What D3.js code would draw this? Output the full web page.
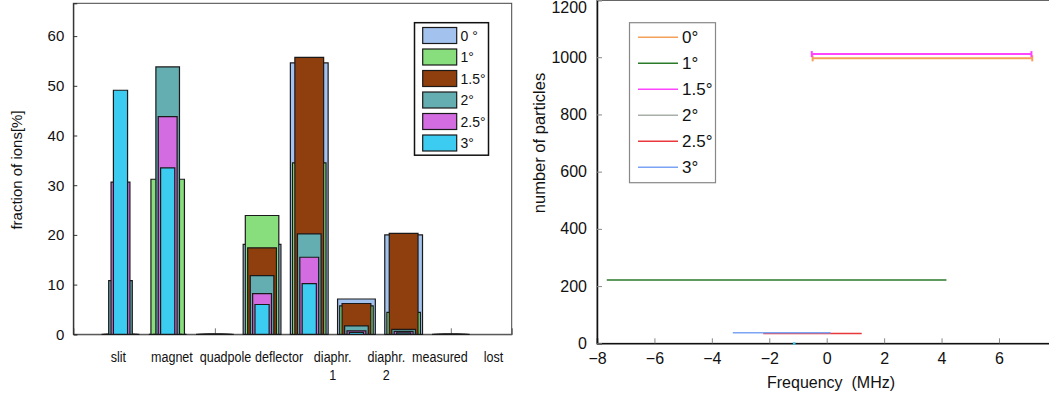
<!DOCTYPE html>
<html>
<head>
<meta charset="utf-8">
<script src="https://cdn.jsdelivr.net/npm/d3@7"></script>
<style>
  html, body { margin: 0; padding: 0; background: #fff; }
  svg { display: block; }
  text { font-family: "Liberation Sans", Arial, sans-serif; fill: #111; }
</style>
</head>
<body>
<svg id="chart" width="1049" height="399"></svg>
<script>
// ---------- Left chart data ----------
const categories = ["slit", "magnet", "quadpole", "deflector", "diaphr.\n1", "diaphr.\n2", "measured", "lost"];
const angleLabels = ["0 °", "1°", "1.5°", "2°", "2.5°", "3°"];
const frac0   = [0,    0,    0, 18.1, 54.6, 7.1, 20.0, 0];
const frac1   = [0,    31.2, 0, 23.9, 34.5, 5.7, 4.4,  0];
const frac15  = [0,    0,    0, 17.4, 55.7, 6.2, 20.3, 0];
const frac2   = [10.8, 53.8, 0, 11.8, 20.2, 1.7, 1.0,  0];
const frac25  = [30.6, 43.8, 0, 8.2,  15.5, 0.7, 0.6,  0];
const frac3   = [49.1, 33.5, 0, 6.0,  10.2, 0.4, 0.3,  0];
const fracTicks = [0, 10, 20, 30, 40, 50, 60];

// ---------- Right chart data ----------
const seriesLabels = ["0°", "1°", "1.5°", "2°", "2.5°", "3°"];
const particles = [996, 221, 1011, null, 34, 37];
const freqLow   = [-0.49, -7.66, -0.52, null, -2.21, -3.27];
const freqHigh  = [7.16, 4.17, 7.13, null, 1.22, 0.14];
const dotFreq = [-1.14];
const dotCount = [0];
const freqTicks = [-8, -6, -4, -2, 0, 2, 4, 6];
const countTicks = [0, 200, 400, 600, 800, 1000, 1200];

// ---------- styles ----------
const barColors = ["#a3c3ee", "#88dd7c", "#8f3f0d", "#64aeb1", "#d26ce0", "#3ccbf1"];
const barWidths = [0.8, 0.71, 0.61, 0.5, 0.4, 0.3];
const lineColors = ["#f5a05a", "#2a7a2a", "#ff44ff", "#a8b0aa", "#e8383c", "#7ba4f4"];
const lineWidths = [2, 1.5, 2, 1.5, 1.5, 1.5];
const capped = [true, false, true, false, false, false];

const svg = d3.select("#chart");

// ================= LEFT CHART =================
const L = { left: 73.3, right: 511.7, top: 3.3, bottom: 334.3 };
const xL = d3.scaleLinear().domain([0, 9.29]).range([L.left, L.right]);
const yL = d3.scaleLinear().domain([0, 66.6]).range([L.bottom, L.top]);
const labelX = d3.scalePoint().domain(categories).range([118.3, 493.5]);

const gL = svg.append("g");

// frame
gL.append("rect").attr("x", L.left).attr("y", L.top)
  .attr("width", L.right - L.left).attr("height", L.bottom - L.top)
  .attr("fill", "none").attr("stroke", "#444").attr("stroke-width", 1);

// bottom axis ticks (inward) at bar positions
gL.append("g").attr("transform", `translate(0,${L.bottom})`)
  .call(d3.axisBottom(xL).tickValues(d3.range(1, categories.length + 1)).tickSize(-6).tickFormat(""))
  .call(g => g.select(".domain").attr("stroke", "#555"))
  .call(g => g.selectAll(".tick line").attr("stroke", "#777"));

// left axis
gL.append("g").attr("transform", `translate(${L.left},0)`)
  .call(d3.axisLeft(yL).tickValues(fracTicks).tickSize(-4).tickPadding(9))
  .call(g => g.select(".domain").attr("stroke", "#222"))
  .call(g => g.selectAll(".tick line").attr("stroke", "#333"))
  .call(g => g.selectAll(".tick text").style("font-size", "15px").attr("fill", "#111"));

// bars
const fracSeries = [frac0, frac1, frac15, frac2, frac25, frac3];
fracSeries.forEach((vals, s) => {
  const w = barWidths[s];
  gL.append("g").selectAll("path").data(vals).join("path")
    .attr("d", (v, i) => {
      const x0 = xL(i + 1 - w / 2), x1 = xL(i + 1 + w / 2);
      const y0 = yL(0), y1 = yL(v);
      return `M${x0},${y0}V${y1}H${x1}V${y0}Z`;
    })
    .attr("fill", barColors[s])
    .attr("stroke", "#1a1a1a")
    .attr("stroke-width", 1.2)
    .attr("stroke-linejoin", "miter");
});

// category labels (condensed look via horizontal scaling)
const catG = gL.append("g").selectAll("g").data(categories).join("g")
  .attr("transform", d => `translate(${labelX(d)},361.5) scale(0.81,1)`);
catG.each(function(d) {
  const parts = d.split("\n");
  d3.select(this).selectAll("text").data(parts).join("text")
    .attr("x", 0)
    .attr("y", (p, i) => i * 18.5)
    .attr("text-anchor", "middle")
    .style("font-size", "15.5px")
    .text(p => p);
});

// y label
gL.append("text")
  .attr("transform", `translate(22,170) rotate(-90)`)
  .attr("text-anchor", "middle")
  .style("font-size", "15px")
  .text("fraction of ions[%]");

// legend
const lg = gL.append("g");
lg.append("rect").attr("x", 414.5).attr("y", 22.7).attr("width", 74).attr("height", 132.5)
  .attr("fill", "#fff").attr("stroke", "#111").attr("stroke-width", 1.5);
angleLabels.forEach((lab, i) => {
  const yy = 27.5 + i * 21.5;
  lg.append("rect").attr("x", 422.7).attr("y", yy).attr("width", 34).attr("height", 16)
    .attr("fill", barColors[i]).attr("stroke", "#1a1a1a").attr("stroke-width", 1.2);
  lg.append("text").attr("x", 460.5).attr("y", yy + 8).attr("dy", "0.36em")
    .style("font-size", "14px").text(lab);
});

// ================= RIGHT CHART =================
const R = { left: 597, right: 1056.4, top: 0.5, bottom: 343.3 };
const xR = d3.scaleLinear().domain([-8, 8]).range([R.left, R.right]);
const yR = d3.scaleLinear().domain([0, 1200]).range([R.bottom, 0]);

const gR = svg.append("g");

gR.append("rect").attr("x", R.left).attr("y", R.top)
  .attr("width", R.right - R.left).attr("height", R.bottom - R.top)
  .attr("fill", "none").attr("stroke", "#666").attr("stroke-width", 1);

gR.append("g").attr("transform", `translate(0,${R.bottom})`)
  .call(d3.axisBottom(xR).tickValues(freqTicks).tickSize(-5).tickPadding(9))
  .call(g => g.select(".domain").attr("stroke", "#111").attr("stroke-width", 1.5))
  .call(g => g.selectAll(".tick line").attr("stroke", "#888"))
  .call(g => g.selectAll(".tick text").style("font-size", "16px").attr("fill", "#111"));

gR.append("g").attr("transform", `translate(${R.left},0)`)
  .call(d3.axisLeft(yR).tickValues(countTicks).tickFormat(d3.format("d")).tickSize(-5).tickPadding(10))
  .call(g => g.select(".domain").attr("stroke", "#111").attr("stroke-width", 1.5))
  .call(g => g.selectAll(".tick line").attr("stroke", "#888"))
  .call(g => g.selectAll(".tick text").style("font-size", "16px").attr("fill", "#111")
     .attr("y", d => Math.max(0, 7 - yR(d))));

// series lines
const lineGen = d3.line().x(d => xR(d[0])).y(d => yR(d[1]));
particles.forEach((p, i) => {
  if (p === null) return;
  gR.append("path")
    .datum([[freqLow[i], p], [freqHigh[i], p]])
    .attr("d", lineGen)
    .attr("fill", "none")
    .attr("stroke", lineColors[i])
    .attr("stroke-width", lineWidths[i]);
  if (capped[i]) {
    [freqLow[i], freqHigh[i]].forEach(f => {
      gR.append("line")
        .attr("x1", xR(f)).attr("x2", xR(f))
        .attr("y1", yR(p) - 3).attr("y2", yR(p) + 3)
        .attr("stroke", lineColors[i]).attr("stroke-width", 2);
    });
  }
});

// small dot
gR.selectAll("rect.dot").data(dotFreq).join("rect").attr("class", "dot")
  .attr("x", (d) => xR(d) - 1).attr("y", (d, i) => yR(dotCount[i]) - 1)
  .attr("width", 2.5).attr("height", 2.5).attr("fill", "#3cc4ee");

// labels
gR.append("text").attr("x", 831).attr("y", 388).attr("text-anchor", "middle")
  .style("font-size", "16px").text("Frequency\u00a0\u00a0(MHz)");
gR.append("text").attr("transform", "translate(545,143) rotate(-90)")
  .attr("text-anchor", "middle").style("font-size", "16.5px").text("number of particles");

// legend
const lr = gR.append("g");
lr.append("rect").attr("x", 629.5).attr("y", 22.7).attr("width", 86).attr("height", 160)
  .attr("fill", "#fff").attr("stroke", "#888").attr("stroke-width", 1.2);
seriesLabels.forEach((lab, i) => {
  const yy = 37.3 + i * 26;
  lr.append("line").attr("x1", 638).attr("x2", 678).attr("y1", yy).attr("y2", yy)
    .attr("stroke", lineColors[i]).attr("stroke-width", 1.5);
  lr.append("text").attr("x", 682).attr("y", yy).attr("dy", "0.36em")
    .style("font-size", "17px").text(lab);
});
</script>
</body>
</html>
